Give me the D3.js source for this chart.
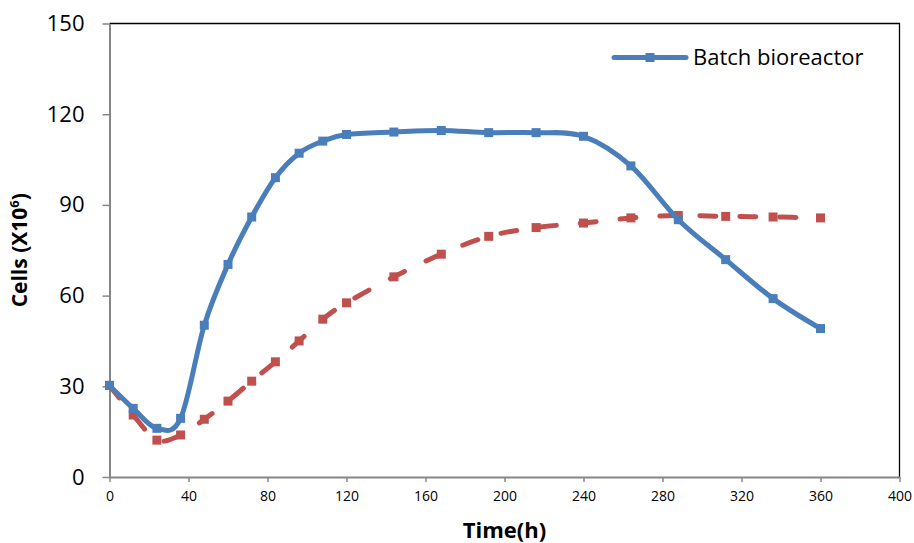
<!DOCTYPE html>
<html>
<head>
<meta charset="utf-8">
<script src="https://cdn.jsdelivr.net/npm/d3@7"></script>
<style>
  html, body { margin: 0; padding: 0; background: #fff; }
  svg { display: block; }
  text { font-family: "Open Sans", sans-serif; fill: #000; }
</style>
</head>
<body>
<svg id="chart" width="914" height="543"></svg>
<script>
// Sampling times (hours)
const times = [0, 12, 24, 36, 48, 60, 72, 84, 96, 108, 120, 144, 168, 192, 216, 240, 264, 288, 312, 336, 360];

// Cell counts (x10^6) for the batch bioreactor
const batchCells = [30.3, 22.7, 16.1, 19.4, 50.2, 70.3, 86.0, 99.0, 107.1, 111.1, 113.3, 114.1, 114.6, 113.9, 113.9, 112.7, 102.9, 85.1, 71.9, 59.0, 49.1];

// Cell counts (x10^6) for the second culture (dashed series)
const secondCells = [30.3, 20.5, 12.2, 13.9, 19.1, 25.1, 31.7, 38.1, 45.0, 52.2, 57.6, 66.2, 73.7, 79.6, 82.5, 84.0, 85.7, 86.5, 86.2, 86.0, 85.7];

const xTicks = [0, 40, 80, 120, 160, 200, 240, 280, 320, 360, 400];
const yTicks = [0, 30, 60, 90, 120, 150];

const svg = d3.select("#chart");
const plot = { left: 109.5, right: 899.5, top: 23.5, bottom: 477 };

const x = d3.scaleLinear().domain([0, 400]).range([plot.left, plot.right]);
const y = d3.scaleLinear().domain([0, 150]).range([plot.bottom, plot.top]);

// Plot area frame (top and right edges)
svg.append("path")
  .attr("d", `M${plot.left},${plot.top}H${plot.right}V${plot.bottom}`)
  .attr("fill", "none")
  .attr("stroke", "#000")
  .attr("stroke-width", 1.3);

// Y axis
const yAxis = svg.append("g")
  .attr("transform", `translate(${plot.left},0)`)
  .call(d3.axisLeft(y).tickValues(yTicks).tickSize(7).tickPadding(18).tickSizeOuter(0));
yAxis.select(".domain").attr("stroke", "#868686").attr("stroke-width", 2);
yAxis.selectAll(".tick line").attr("stroke", "#868686").attr("stroke-width", 1.5);
yAxis.selectAll(".tick text")
  .attr("font-size", 22)
  .attr("font-family", "'Open Sans', sans-serif")
  .attr("fill", "#000");

// X axis
const xAxis = svg.append("g")
  .attr("transform", `translate(0,${plot.bottom})`)
  .call(d3.axisBottom(x).tickValues(xTicks).tickSize(5).tickPadding(9).tickSizeOuter(0));
xAxis.select(".domain").attr("stroke", "#868686").attr("stroke-width", 2);
xAxis.selectAll(".tick line").attr("stroke", "#868686").attr("stroke-width", 1.5);
xAxis.selectAll(".tick text")
  .attr("font-size", 14)
  .attr("font-family", "'Open Sans', sans-serif")
  .attr("fill", "#000");

// Axis titles
svg.append("text")
  .attr("x", (plot.left + plot.right) / 2)
  .attr("y", 538)
  .attr("text-anchor", "middle")
  .attr("font-size", 22)
  .attr("font-weight", "bold")
  .text("Time(h)");

const yTitle = svg.append("text")
  .attr("transform", `translate(27,${(plot.top + plot.bottom) / 2}) rotate(-90)`)
  .attr("text-anchor", "middle")
  .attr("font-size", 21)
  .attr("font-weight", "bold");
yTitle.append("tspan").text("Cells (X10");
yTitle.append("tspan").attr("font-size", 13).attr("dy", -8).text("6");
yTitle.append("tspan").attr("dy", 8).text(")");

// Series
const smooth = d3.line()
  .x(d => x(d[0]))
  .y(d => y(d[1]))
  .curve(d3.curveCardinal.tension(0));

const series = [
  { values: secondCells, color: "#c0504d", dash: "16,24" },
  { values: batchCells, color: "#4a7ebb", dash: null }
];

series.forEach(s => {
  const pts = times.map((t, i) => [t, s.values[i]]);
  svg.append("path")
    .datum(pts)
    .attr("d", smooth)
    .attr("fill", "none")
    .attr("stroke", s.color)
    .attr("stroke-width", 5)
    .attr("stroke-linecap", "round")
    .attr("stroke-linejoin", "round")
    .attr("stroke-dasharray", s.dash);
  svg.append("g")
    .selectAll("rect")
    .data(pts)
    .join("rect")
    .attr("x", d => x(d[0]) - 4.5)
    .attr("y", d => y(d[1]) - 4.5)
    .attr("width", 9)
    .attr("height", 9)
    .attr("fill", s.color);
});

// Legend
const legend = svg.append("g").attr("transform", "translate(614,57.5)");
legend.append("line")
  .attr("x1", 0).attr("x2", 72)
  .attr("stroke", "#4a7ebb")
  .attr("stroke-width", 5)
  .attr("stroke-linecap", "round");
legend.append("rect")
  .attr("x", 31.5).attr("y", -4.5)
  .attr("width", 9).attr("height", 9)
  .attr("fill", "#4a7ebb");
legend.append("text")
  .attr("x", 79)
  .attr("y", 7.5)
  .attr("font-size", 22)
  .text("Batch bioreactor");
</script>
</body>
</html>
